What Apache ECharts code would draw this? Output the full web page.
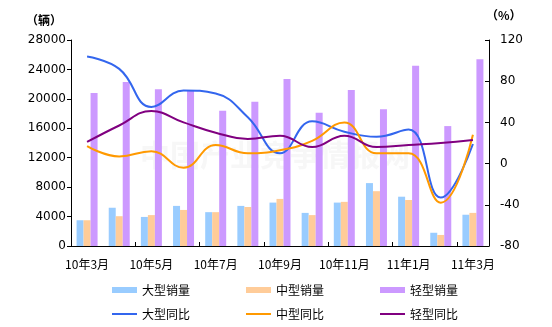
<!DOCTYPE html>
<html>
<head>
<meta charset="utf-8">
<script src="https://cdn.jsdelivr.net/npm/echarts@6/dist/echarts.min.js"></script>
<style>
  html, body { margin: 0; padding: 0; background: #fff; }
  #chart { width: 552px; height: 327px; }
</style>
</head>
<body>
<div id="chart"></div>
<script>
// Monthly sales (vehicles) and year-on-year growth (%) by vehicle class
var months = ['10年3月','10年4月','10年5月','10年6月','10年7月','10年8月','10年9月',
              '10年10月','10年11月','10年12月','11年1月','11年2月','11年3月'];

var largeSales  = [3500, 5200, 3950, 5450, 4600, 5450, 5900, 4500, 5900, 8550, 6700, 1800, 4250];
var mediumSales = [3500, 4050, 4200, 4900, 4600, 5300, 6400, 4200, 6000, 7450, 6250, 1500, 4500];
var lightSales  = [20800, 22300, 21300, 21100, 18400, 19600, 22700, 18100, 21200, 18600, 24500, 16300, 25400];

var largeYoY  = [104, 92, 55, 71, 68, 45, 10, 41, 31, 26, 33, -33, 19];
var mediumYoY = [17, 7, 12, -4, 18, 10, 13, 22, 40, 10, 10, -38, 28];
var lightYoY  = [21, 37, 51, 40, 30, 24, 27, 16, 27, 16, 18, 20, 23];

var leftTicks  = { min: 0, max: 28000, step: 4000 };
var rightTicks = { min: -80, max: 120, step: 40 };

var numFont = 'DejaVu Sans';
var cjkFont = '"Noto Sans CJK SC", "Noto Sans", sans-serif';

var chart = echarts.init(document.getElementById('chart'), null, { renderer: 'canvas' });

function barSeries(name, data, color) {
  return {
    name: name, type: 'bar', yAxisIndex: 0, data: data,
    barWidth: 7, barGap: '0%',
    itemStyle: { color: color },
    emphasis: { disabled: true }
  };
}
function lineSeries(name, data, color) {
  return {
    name: name, type: 'line', yAxisIndex: 1, data: data,
    smooth: 0.45, showSymbol: false, symbol: 'none',
    lineStyle: { color: color, width: 2 },
    itemStyle: { color: color },
    z: 5,
    emphasis: { disabled: true }
  };
}

chart.setOption({
  animation: false,
  backgroundColor: '#fff',
  grid: { left: 71, right: 63, top: 40, bottom: 81 },
  graphic: [
    { type: 'text', left: 26, top: 14,
      style: { text: '（辆）', font: 'bold 12px ' + cjkFont, fill: '#000' } },
    { type: 'text', left: 486, top: 9,
      style: { text: '（%）', font: 'bold 12px ' + cjkFont, fill: '#000' } },
    { type: 'text', left: 140, top: 140, z: -1,
      style: { text: '中国产业竞争情报网', font: 'bold 30px ' + cjkFont, fill: 'rgba(200,200,200,0.15)' } }
  ],
  legend: [
    {
      data: ['大型销量', '中型销量', '轻型销量'],
      left: 112, top: 284, padding: 0, itemWidth: 25, itemHeight: 6, itemGap: 56,
      icon: 'rect', selectedMode: false,
      textStyle: { fontFamily: cjkFont, fontSize: 12, color: '#000' }
    },
    {
      data: ['大型同比', '中型同比', '轻型同比'],
      left: 112, top: 308, padding: 0, itemWidth: 25, itemHeight: 2, itemGap: 56,
      icon: 'rect', selectedMode: false,
      textStyle: { fontFamily: cjkFont, fontSize: 12, color: '#000' }
    }
  ],
  xAxis: {
    type: 'category', data: months, boundaryGap: true,
    axisLine: { lineStyle: { color: '#000', width: 1 } },
    axisTick: { show: true, inside: true, length: 4, lineStyle: { color: '#000' } },
    axisLabel: { interval: 1, margin: 12, color: '#000', fontFamily: cjkFont, fontSize: 12 },
    splitLine: { show: false }
  },
  yAxis: [
    {
      type: 'value', min: leftTicks.min, max: leftTicks.max, interval: leftTicks.step,
      axisLine: { show: true, lineStyle: { color: '#000', width: 1 } },
      axisTick: { show: true, length: 4, lineStyle: { color: '#000' } },
      axisLabel: { margin: 5, color: '#000', fontFamily: numFont, fontSize: 12,
                   formatter: function (v) { return String(v); } },
      splitLine: { show: false }
    },
    {
      type: 'value', position: 'right', min: rightTicks.min, max: rightTicks.max, interval: rightTicks.step,
      axisLine: { show: true, lineStyle: { color: '#000', width: 1 } },
      axisTick: { show: true, inside: true, length: 4, lineStyle: { color: '#000' } },
      axisLabel: { margin: 11, color: '#000', fontFamily: numFont, fontSize: 12,
                   formatter: function (v) { return String(v); } },
      splitLine: { show: false }
    }
  ],
  series: [
    barSeries('大型销量', largeSales, '#99CCFF'),
    barSeries('中型销量', mediumSales, '#FFCC99'),
    barSeries('轻型销量', lightSales, '#CC99FF'),
    lineSeries('大型同比', largeYoY, '#3366EE'),
    lineSeries('中型同比', mediumYoY, '#FF9900'),
    lineSeries('轻型同比', lightYoY, '#800080')
  ]
});
</script>
</body>
</html>
